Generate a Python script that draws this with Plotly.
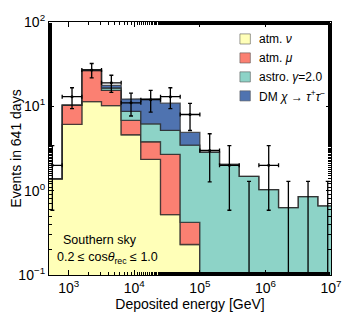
import numpy as np
import plotly.graph_objects as go

# ---- data ----
log_edges = [2.6, 2.9, 3.2, 3.5, 3.8, 4.1, 4.4, 4.7, 5.0, 5.3, 5.6, 5.9, 6.2, 6.5, 6.8, 7.1]

atm_nu = [1.38, 6.1, 11.4, 10.2, 4.6, 2.35, 0.52, 0.23, 0, 0, 0, 0, 0, 0, 0]
atm_mu = [0.0, 4.2, 15.1, 5.3, 2.2, 1.45, 2.18, 0.19, 0, 0, 0, 0, 0, 0, 0]
astro = [0.0, 0.0, 0.15, 1.0, 1.9, 2.4, 2.5, 3.04, 2.85, 2.05, 1.48, 1.03, 0.63, 0.85, 0.66]
dm = [0.0, 0.0, 0.3, 1.2, 3.5, 6.1, 5.7, 1.44, 0.03, 0, 0, 0, 0, 0, 0]

counts = [2, 13, 27, 19, 11, 12, 13, 8, 3, 2, 0, 2, 0, 0, 0]
zero_upper = 1.29  # upper bound drawn for empty bins

x_tickvals = [1e3, 1e4, 1e5, 1e6, 1e7]
x_ticktext = ["10<sup>3</sup>", "10<sup>4</sup>", "10<sup>5</sup>", "10<sup>6</sup>", "10<sup>7</sup>"]
y_tickvals = [0.1, 1, 10, 100]
y_ticktext = ["10<sup>−1</sup>", "10<sup>0</sup>", "10<sup>1</sup>", "10<sup>2</sup>"]

names = ["atm. <i>ν</i>", "atm. <i>μ</i>", "astro. <i>γ</i>=2.0",
         "DM <i>χ</i> → <i>τ</i><sup>+</sup><i>τ</i><sup>−</sup>"]
colors = ["#ffffb8", "#fb8072", "#8dd3c7", "#4f73b0"]

FLOOR = 1e-3
le = np.array(log_edges)
edges = 10 ** le
centers = 10 ** ((le[:-1] + le[1:]) / 2)

fig = go.Figure()

comps = [atm_nu, atm_mu, astro, dm]
cum = np.zeros(len(counts))
for name, comp, col in zip(names, comps, colors):
    lower = np.maximum(cum, FLOOR)
    cum = cum + np.array(comp)
    upper = np.maximum(cum, FLOOR)
    xs, ys = [], []
    for i in range(len(counts)):
        xs += [edges[i], edges[i + 1]]
        ys += [upper[i], upper[i]]
    for i in range(len(counts) - 1, -1, -1):
        xs += [edges[i + 1], edges[i]]
        ys += [lower[i], lower[i]]
    fig.add_trace(go.Scatter(x=xs, y=ys, mode="lines", fill="toself", fillcolor=col,
                             line=dict(color="rgba(40,40,40,0.75)", width=1.3),
                             name=name, showlegend=False, hoverinfo="skip"))

# data points
cnt = np.array(counts, dtype=float)
nz = cnt > 0
lo_e = edges[:-1]
hi_e = edges[1:]
fig.add_trace(go.Scatter(
    x=centers[nz], y=cnt[nz], mode="markers",
    marker=dict(color="black", size=3),
    error_y=dict(type="data", symmetric=True, array=np.sqrt(cnt[nz]),
                 color="black", thickness=1.3, width=2),
    error_x=dict(type="data", symmetric=False, array=(hi_e - centers)[nz],
                 arrayminus=(centers - lo_e)[nz], color="black", thickness=1.3, width=2),
    showlegend=False, hoverinfo="skip"))

z = ~nz
fig.add_trace(go.Scatter(
    x=centers[z], y=np.full(z.sum(), zero_upper), mode="markers",
    marker=dict(color="black", size=0.1, opacity=0),
    error_y=dict(type="data", symmetric=False, array=np.zeros(z.sum()),
                 arrayminus=np.full(z.sum(), zero_upper - FLOOR),
                 color="black", thickness=1.3, width=2),
    showlegend=False, hoverinfo="skip"))

FONT = "Liberation Sans, Arial, sans-serif"
axis_common = dict(type="log", showline=True, linecolor="black", linewidth=1.2,
                   mirror="allticks", ticks="inside", ticklen=5, tickwidth=1,
                   tickcolor="black", showgrid=False, automargin=False,
                   zeroline=False, tickfont=dict(size=14, color="black", family=FONT),
                   minor=dict(ticks="inside", ticklen=3, tickwidth=0.8, tickcolor="black",
                              showgrid=False))

# manual legend (swatch + text), placed in paper coordinates
legend_shapes = []
legend_annots = []
row_y = [0.933, 0.858, 0.783, 0.708]
for name, col, ry in zip(names, colors, row_y):
    legend_shapes.append(dict(type="rect", xref="paper", yref="paper",
                              x0=0.677, x1=0.714, y0=ry - 0.02, y1=ry + 0.02,
                              fillcolor=col, line=dict(color="rgba(90,90,90,0.6)", width=1)))
    legend_annots.append(dict(text=name, x=0.738, y=ry, xref="paper", yref="paper",
                              xanchor="left", yanchor="middle", showarrow=False,
                              font=dict(size=12)))

# the page body adds an 8px offset, so margins are shifted by 8px to compensate
fig.update_layout(
    width=354, height=314,
    margin=dict(l=41, r=31, t=14, b=47),
    paper_bgcolor="white", plot_bgcolor="white",
    font=dict(family=FONT, size=12, color="black"),
    showlegend=False,
    xaxis=dict(range=[np.log10(500), 7], tickvals=x_tickvals, ticktext=x_ticktext,
               title=dict(text="Deposited energy [GeV]", font=dict(size=14), standoff=3),
               **axis_common),
    yaxis=dict(range=[-1, 2], tickvals=y_tickvals, ticktext=y_ticktext,
               title=dict(text="Events in 641 days", font=dict(size=14), standoff=3),
               **axis_common),
    shapes=legend_shapes,
    annotations=[
        dict(text="Southern sky", x=0.181, y=0.138, xref="paper", yref="paper",
             xanchor="center", yanchor="middle", showarrow=False, font=dict(size=12.5)),
        dict(text="0.2 ≤ cos<i>θ</i><sub>rec</sub> ≤ 1.0", x=0.206, y=0.068,
             xref="paper", yref="paper", xanchor="center", yanchor="middle",
             showarrow=False, font=dict(size=12.5)),
    ] + legend_annots,
)

fig.write_html("out.html")
